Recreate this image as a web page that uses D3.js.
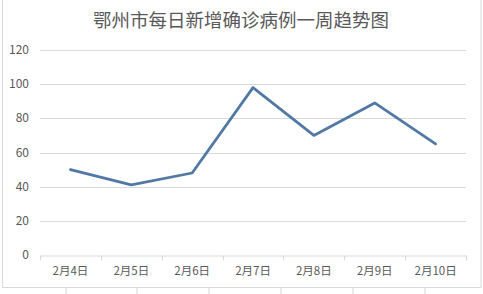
<!DOCTYPE html>
<html>
<head>
<meta charset="utf-8">
<script src="https://cdn.jsdelivr.net/npm/d3@7"></script>
<style>
  body { margin: 0; background: #fff; }
  svg { display: block; font-family: "Noto Sans CJK SC", "Noto Sans", sans-serif; }
</style>
</head>
<body>
<div id="chart"></div>
<script>
const titleText = "鄂州市每日新增确诊病例一周趋势图";
const categories = ["2月4日", "2月5日", "2月6日", "2月7日", "2月8日", "2月9日", "2月10日"];
const values = [50, 41, 48, 98, 70, 89, 65];
const yTicks = [0, 20, 40, 60, 80, 100, 120];
const sheetCols = [66, 137, 209, 281, 353, 425];

let config = {
  width: 483,
  height: 294,
  margin: { top: 50, bottom: 39, left: 40, right: 17 },
  lineColor: "#5279a6",
  gridColor: "#d9d9d9",
  textColor: "#595959",
  container: d3.select("#chart").append("svg")
};
config.bodyWidth = config.width - config.margin.left - config.margin.right;
config.bodyHeight = config.height - config.margin.top - config.margin.bottom;
config.container.attr("width", config.width).attr("height", config.height);

let svg = config.container;

// spreadsheet cell lines behind the chart object
svg.selectAll(".sheetcol")
  .data(sheetCols)
  .enter()
  .append("line")
  .attr("x1", d => d).attr("x2", d => d)
  .attr("y1", 287).attr("y2", config.height)
  .attr("stroke", "#d4d4d4");

// chart frame
svg.append("rect")
  .attr("x", 2.5).attr("y", -2)
  .attr("width", 478.5).attr("height", 289.5)
  .attr("fill", "#fff")
  .attr("stroke", "#d9d9d9");

svg.append("text")
  .attr("x", 241)
  .attr("y", 27)
  .attr("text-anchor", "middle")
  .attr("font-size", 18.5)
  .attr("fill", config.textColor)
  .text(titleText);

let x = d3.scaleBand()
  .domain(categories)
  .range([config.margin.left, config.margin.left + config.bodyWidth]);

let y = d3.scaleLinear()
  .domain([0, 120])
  .range([config.margin.top + config.bodyHeight, config.margin.top]);

// gridlines
svg.selectAll(".grid")
  .data(yTicks.filter(d => d > 0))
  .enter()
  .append("line")
  .attr("x1", config.margin.left)
  .attr("x2", config.margin.left + config.bodyWidth)
  .attr("y1", d => Math.round(y(d)) + 0.5)
  .attr("y2", d => Math.round(y(d)) + 0.5)
  .attr("stroke", config.gridColor);

// y axis labels
svg.selectAll(".ylab")
  .data(yTicks)
  .enter()
  .append("text")
  .attr("x", 29)
  .attr("y", d => y(d) + 4)
  .attr("text-anchor", "end")
  .attr("font-size", 12)
  .attr("fill", config.textColor)
  .text(d => d);

// x axis
let xAxis = svg.append("g")
  .attr("transform", `translate(0,${Math.round(y(0)) + 0.5})`)
  .call(d3.axisBottom(x).tickSize(0).tickPadding(11));
xAxis.select(".domain").attr("stroke", config.gridColor);
xAxis.selectAll("text")
  .attr("font-size", 11.5)
  .attr("fill", config.textColor)
  .attr("font-family", "\"Noto Sans CJK SC\", sans-serif");

let boundaries = categories.map(d => x(d)).concat([config.margin.left + config.bodyWidth]);
xAxis.selectAll(".sep")
  .data(boundaries)
  .enter()
  .append("line")
  .attr("x1", d => Math.round(d) + 0.5)
  .attr("x2", d => Math.round(d) + 0.5)
  .attr("y1", 0)
  .attr("y2", 5)
  .attr("stroke", config.gridColor);

let line = d3.line()
  .x((d, i) => x(categories[i]) + x.bandwidth() / 2)
  .y(d => y(d));

svg.append("path")
  .datum(values)
  .attr("d", line)
  .attr("fill", "none")
  .attr("stroke", config.lineColor)
  .attr("stroke-width", 2.8)
  .attr("stroke-linejoin", "round")
  .attr("stroke-linecap", "round");
</script>
</body>
</html>
